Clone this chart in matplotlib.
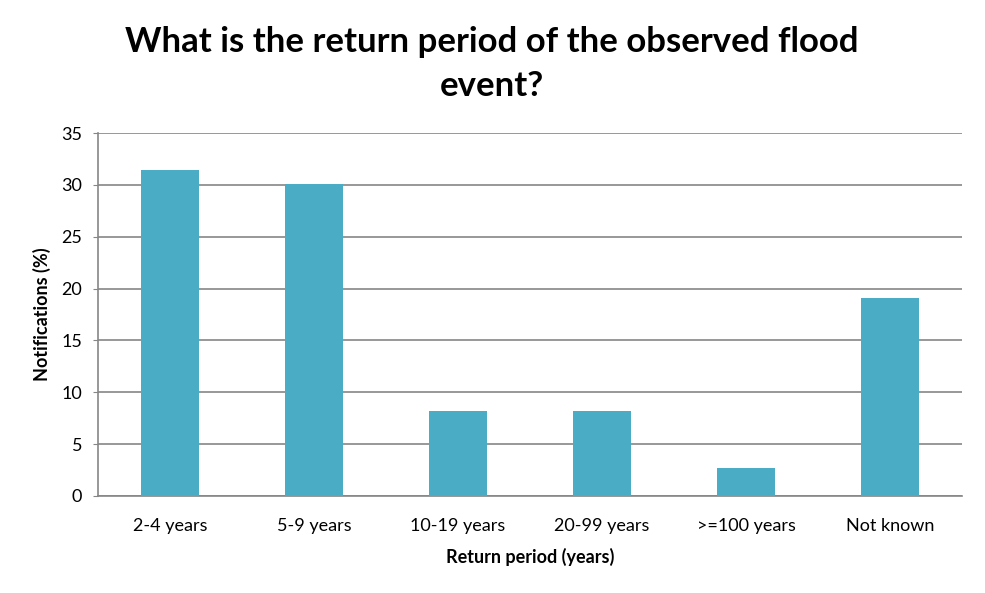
import matplotlib
matplotlib.use('Agg')
import matplotlib.pyplot as plt
import numpy as np

plt.rcParams['font.family'] = ['Lato', 'DejaVu Sans']

categories = ['2-4 years', '5-9 years', '10-19 years', '20-99 years', '>=100 years', 'Not known']
values = [31.4, 30.1, 8.2, 8.2, 2.7, 19.1]

fig = plt.figure(figsize=(9.85, 5.93), dpi=100)
ax = fig.add_axes([98 / 985, 1 - 496 / 593, (962 - 98) / 985, (496 - 133) / 593])

x = np.arange(len(categories))
ax.bar(x, values, width=0.4, color='#4BACC6', zorder=3)

ax.set_xlim(-0.5, len(categories) - 0.5)
ax.set_ylim(0, 35)
ax.set_yticks(np.arange(0, 36, 5))
ax.set_xticks(x)
ax.set_xticklabels(categories, fontsize=13)
ax.tick_params(axis='y', labelsize=13, length=3.5, color='#868686', pad=8)
ax.tick_params(axis='x', length=0, pad=16)
ax.yaxis.grid(True, color='#868686', linewidth=1.2, zorder=0)

for side in ['top', 'right']:
    ax.spines[side].set_visible(False)
for side in ['left', 'bottom']:
    ax.spines[side].set_color('#868686')
    ax.spines[side].set_linewidth(1.2)

ax.set_xlabel('Return period (years)', fontsize=13, fontweight='bold', labelpad=10)
ax.set_ylabel('Notifications (%)', fontsize=13, fontweight='bold', labelpad=7)

fig.text(0.499, 0.892, 'What is the return period of the observed flood\nevent?',
         ha='center', va='center', fontsize=25, fontweight='bold', linespacing=1.45)

fig.savefig('out.png', dpi=100)
